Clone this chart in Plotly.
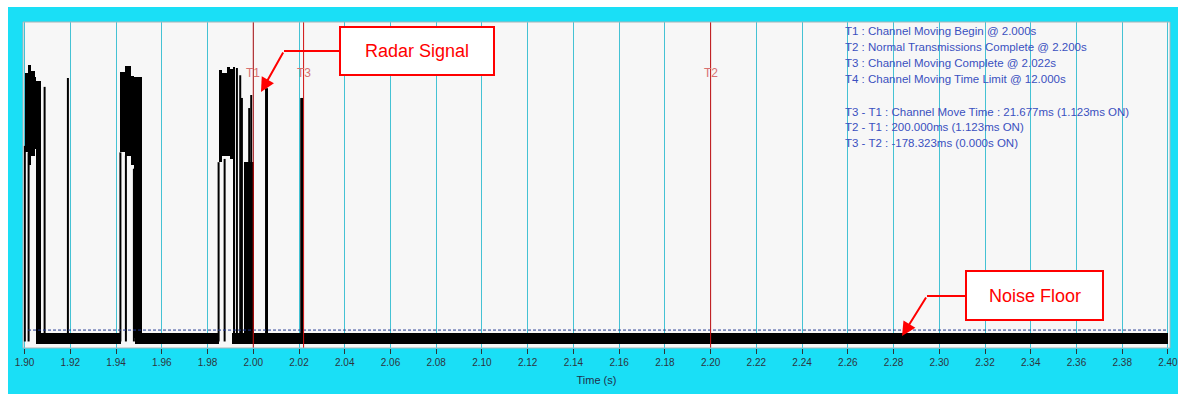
import plotly.graph_objects as go

# ---------------- data ----------------
# Burst "mass" blocks: start time (s), end time (s), low level, high level
mass_t0 = [1.9000, 1.9015, 1.9030, 1.9045, 1.9052,
           1.9417, 1.9439, 1.9465, 1.9478,
           1.9848, 1.9865, 1.9885, 1.9900, 1.9911, 1.9960]
mass_t1 = [1.9015, 1.9030, 1.9045, 1.9052, 1.9071,
           1.9439, 1.9465, 1.9478, 1.9512,
           1.9865, 1.9885, 1.9900, 1.9911, 1.9921, 2.0004]
mass_lo = [0.60, 0.56, 0.59, 0.61, 0.03,
           0.60, 0.59, 0.56, 0.03,
           0.57, 0.59, 0.59, 0.58, 0.03, 0.03]
mass_hi = [0.845, 0.868, 0.850, 0.830, 0.820,
           0.846, 0.865, 0.835, 0.831,
           0.853, 0.843, 0.862, 0.855, 0.862, 0.571]

# Individual pulses: time (s), peak level
pulse_t = [1.9001, 1.90175, 1.90875, 1.91894,
           1.94190, 1.94430, 1.94780,
           1.98484, 1.98747, 1.99284, 1.99430, 1.99503, 1.99822, 1.99910]
pulse_top = [0.62, 0.60, 0.801, 0.828,
             0.60, 0.59, 0.55,
             0.57, 0.58, 0.859, 0.837, 0.767, 0.736, 0.776]

# Strong pulses (radar signal and T3 pulse)
strong_t = [2.0058, 2.0212]
strong_top = [0.797, 0.767]

# Noise floor segments
floor_t0 = [1.9052, 1.9482, 1.9908]
floor_t1 = [1.9420, 1.9850, 2.4000]
floor_lo = 0.012
floor_hi = 0.046
noise_threshold = 0.055

# Markers
marker_t = [2.000, 2.022, 2.200]
marker_lbl = ["T1", "T3", "T2"]

info_lines = [
    "T1 : Channel Moving Begin @ 2.000s",
    "T2 : Normal Transmissions Complete @ 2.200s",
    "T3 : Channel Moving Complete @ 2.022s",
    "T4 : Channel Moving Time Limit @ 12.000s",
    "T3 - T1 : Channel Move Time : 21.677ms (1.123ms ON)",
    "T2 - T1 : 200.000ms (1.123ms ON)",
    "T3 - T2 : -178.323ms (0.000s ON)",
]

tick_vals = [round(1.90 + 0.02 * i, 2) for i in range(26)]
tick_text = ["%.2f" % v for v in tick_vals]

# ---------------- layout geometry (pixels) ----------------
W, H = 1178, 394
L, R, T, B = 23, 8, 22, 46
PW, PH = W - L - R, H - T - B


def px(x):
    return (x - L) / PW


def py(y):
    return (H - B - y) / PH


FONT = "Liberation Sans, Arial, sans-serif"

fig = go.Figure()

# burst masses
fig.add_trace(go.Bar(
    x=[(a + b) / 2 for a, b in zip(mass_t0, mass_t1)],
    width=[b - a for a, b in zip(mass_t0, mass_t1)],
    base=mass_lo,
    y=[h - l for h, l in zip(mass_hi, mass_lo)],
    marker=dict(color="black", line=dict(width=0)),
    showlegend=False, hoverinfo="skip",
))

# noise floor
fig.add_trace(go.Bar(
    x=[(a + b) / 2 for a, b in zip(floor_t0, floor_t1)],
    width=[b - a for a, b in zip(floor_t0, floor_t1)],
    base=[floor_lo] * len(floor_t0),
    y=[floor_hi - floor_lo] * len(floor_t0),
    marker=dict(color="black", line=dict(width=0)),
    showlegend=False, hoverinfo="skip",
))

# thin pulses
xs, ys = [], []
for t, top in zip(pulse_t, pulse_top):
    xs += [t, t, None]
    ys += [0.02, top, None]
fig.add_trace(go.Scatter(x=xs, y=ys, mode="lines",
                         line=dict(color="black", width=2),
                         showlegend=False, hoverinfo="skip"))

# strong pulses
xs, ys = [], []
for t, top in zip(strong_t, strong_top):
    xs += [t, t, None]
    ys += [0.02, top, None]
fig.add_trace(go.Scatter(x=xs, y=ys, mode="lines",
                         line=dict(color="black", width=3),
                         showlegend=False, hoverinfo="skip"))

shapes = []
annotations = []

# white strips of the frame
shapes.append(dict(type="rect", xref="paper", yref="paper",
                   x0=px(0), x1=px(W), y0=py(7), y1=py(0),
                   fillcolor="white", line=dict(width=0), layer="below"))
shapes.append(dict(type="rect", xref="paper", yref="paper",
                   x0=px(0), x1=px(8), y0=py(H), y1=py(0),
                   fillcolor="white", line=dict(width=0), layer="below"))

# noise threshold dashed line
shapes.append(dict(type="line", xref="x", yref="y",
                   x0=1.9015, x1=2.4, y0=noise_threshold, y1=noise_threshold,
                   line=dict(color="#1F3590", width=1, dash="3px,2px"), layer="above"))

# marker lines
for t, lbl in zip(marker_t, marker_lbl):
    shapes.append(dict(type="line", xref="x", yref="paper",
                       x0=t, x1=t, y0=0, y1=1,
                       line=dict(color="#D01010", width=1), layer="above"))
    annotations.append(dict(x=t, y=py(73), xref="x", yref="paper",
                            text=lbl, showarrow=False,
                            xanchor="center", yanchor="middle",
                            font=dict(family=FONT, size=12, color="#D87070")))

# plot border
shapes.append(dict(type="rect", xref="paper", yref="paper",
                   x0=0, x1=1, y0=0, y1=1,
                   line=dict(color="#A8B4B8", width=1), layer="above"))

# info text
info_y = [31, 47, 63, 79, 112, 127, 143]
for txt, yy in zip(info_lines, info_y):
    annotations.append(dict(x=px(843), y=py(yy), xref="paper", yref="paper",
                            text=txt, showarrow=False,
                            xanchor="left", yanchor="middle",
                            font=dict(family=FONT, size=11.5, color="#3A50C0")))


# callout boxes
def callout(box, text, tip, bend):
    x0, y0, x1, y1 = box
    shapes.append(dict(type="rect", xref="paper", yref="paper",
                       x0=px(x0), x1=px(x1), y0=py(y1), y1=py(y0),
                       fillcolor="white", line=dict(color="#FF0000", width=2),
                       layer="above"))
    annotations.append(dict(x=px((x0 + x1) / 2), y=py((y0 + y1) / 2),
                            xref="paper", yref="paper", text=text,
                            showarrow=False, xanchor="center", yanchor="middle",
                            font=dict(family=FONT, size=18, color="#FF0000")))
    shapes.append(dict(type="line", xref="paper", yref="paper",
                       x0=px(bend[0]), x1=px(x0), y0=py(bend[1]), y1=py(bend[1]),
                       line=dict(color="#FF0000", width=2), layer="above"))
    annotations.append(dict(x=px(tip[0]), y=py(tip[1]), xref="paper", yref="paper",
                            text="", showarrow=True, arrowhead=2, arrowsize=1.4,
                            arrowwidth=2, arrowcolor="#FF0000",
                            ax=bend[0] - tip[0], ay=bend[1] - tip[1]))


callout((340, 27, 494, 75), "Radar Signal", (261, 92), (284, 51))
callout((966, 271, 1103, 320), "Noise Floor", (902, 336), (927, 296))

fig.update_layout(
    width=W, height=H,
    margin=dict(l=L, r=R, t=T, b=B),
    paper_bgcolor="#1ADFF6",
    plot_bgcolor="#F7F7F7",
    barmode="overlay",
    bargap=0,
    showlegend=False,
    shapes=shapes,
    annotations=annotations,
    xaxis=dict(
        range=[1.8993, 2.4009],
        automargin=False,
        tickmode="array", tickvals=tick_vals, ticktext=tick_text,
        showgrid=True, gridcolor="#44C2D4", gridwidth=1,
        zeroline=False,
        ticks="outside", ticklen=5, tickcolor="#333333", tickwidth=1,
        ticklabeloverflow="allow",
        tickfont=dict(family=FONT, size=10, color="#2E3440"),
        title=dict(text="Time (s)", standoff=9,
                   font=dict(family=FONT, size=11, color="#1F2F4A")),
        showline=False,
    ),
    yaxis=dict(range=[0, 1], showgrid=False, zeroline=False, automargin=False,
               showticklabels=False, ticks="", showline=False),
)

fig.write_html("out.html")
